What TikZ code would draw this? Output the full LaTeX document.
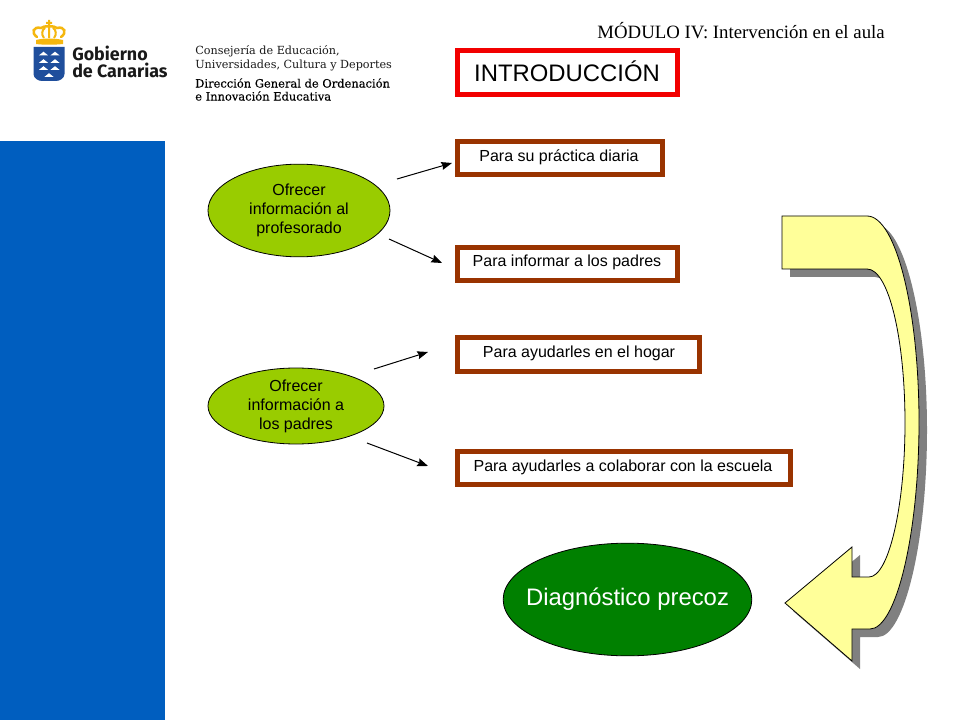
\documentclass[tikz,border=0pt]{standalone}
\usepackage{fontspec}
\setmainfont{Liberation Sans}
\newfontfamily\timesf{Liberation Serif}
\newfontfamily\logoserif{DejaVu Serif}
\newfontfamily\logoserifb[FakeBold=0.25]{DejaVu Serif}
\newfontfamily\logosans{Fira Sans}
\usetikzlibrary{arrows.meta,shapes.geometric}
\definecolor{sideblue}{HTML}{005EBF}
\definecolor{brownb}{HTML}{993300}
\definecolor{lime}{HTML}{99CC00}
\definecolor{dgreen}{HTML}{008000}
\definecolor{pale}{HTML}{FFFF99}
\definecolor{shad}{HTML}{808080}
\definecolor{shield}{HTML}{1F4E9C}
\definecolor{crown}{HTML}{F5B70F}
\tikzset{
 x=0.75pt,y=-0.75pt,
 brownbox/.style={draw=brownb,line width=3.75pt,fill=white,anchor=center,inner sep=0pt},
 boxtext/.style={inner sep=0pt,font=\fontsize{12pt}{14pt}\selectfont},
 bubble/.style={ellipse,draw=black,line width=0.6pt,fill=lime,inner sep=-6pt,align=center,font=\fontsize{12pt}{14.3pt}\selectfont},
 link/.style={draw=black,line width=0.75pt,-{Stealth[length=8pt,width=6pt,inset=1pt]}},
 logotxt/.style={anchor=west,inner sep=0pt,font=\logoserif\fontsize{8.4pt}{10pt}\selectfont,text=black!90},
 logotxtb/.style={anchor=west,inner sep=0pt,font=\logoserifb\fontsize{8.6pt}{10pt}\selectfont,text=black},
 logobig/.style={anchor=west,inner sep=0pt,font=\logosans\bfseries\fontsize{13.4pt}{15pt}\selectfont,text=black!90},
}
\newcommand{\arrowshape}{(782,216) -- (867,216) .. controls (896,216) and (919,310) .. (919,422) .. controls (919,535) and (896,629) .. (870,629) -- (852,629) -- (852,661) -- (785,603) -- (852,547) -- (852,577) -- (869,577) .. controls (889,577) and (905,505) .. (905,423) .. controls (905,340) and (889,269) .. (867,269) -- (782,269) -- cycle}
\begin{document}
\begin{tikzpicture}
\useasboundingbox (0,0) rectangle (960,720);
\fill[white] (0,0) rectangle (960,720);
\fill[sideblue] (0,141) rectangle (165,720);
% logo
\draw[crown,line width=1.9pt,line cap=round] (37,37) .. controls (31,33) and (33,26) .. (41,28) .. controls (44,25.5) and (54,25.5) .. (57,28) .. controls (65,26) and (67,33) .. (61,37);
\draw[crown,line width=1.5pt] (44,38) .. controls (41,34) and (42,30) .. (45,28) (49,38) -- (49,27) (54,38) .. controls (57,34) and (56,30) .. (53,28);
\fill[crown] (36,40) .. controls (44,38) and (54,38) .. (63,40) -- (63,44) .. controls (54,45) and (44,45) .. (36,44) -- cycle;
\fill[crown] (48,20) rectangle (50,26) (46,22) rectangle (52,24);
\path[fill=shield] (33.5,47) -- (64.5,47) -- (64.5,74) .. controls (64.5,78) and (60,81) .. (56,81) -- (42,81) .. controls (38,81) and (33.5,78) .. (33.5,74) -- cycle;
\foreach \p in {(43.5,55.5),(55,55.5),(43.5,63),(55,63),(43.5,70),(55,70),(49,77)}{
 \fill[white] \p ++(-4.7,0) -- ++(4.7,-3.8) -- ++(4.7,3.8) -- cycle;}
\node[logobig] (gob1) at (72,53) {Gobierno};
\node[logobig] (gob2) at (72,70) {de Canarias};
\node[logotxt] (l1) at (195,51) {Consejería de Educación,};
\node[logotxt] (l2) at (195,65) {Universidades, Cultura y Deportes};
\node[logotxtb] (l3) at (195,83) {Dirección General de Ordenación};
\node[logotxtb] (l4) at (195,96) {e Innovación Educativa};
% title
\node[anchor=east,inner sep=0pt,font=\timesf\fontsize{14.1pt}{16pt}\selectfont] (mod) at (885,31) {MÓDULO IV: Intervención en el aula};
\draw[red!95!black,line width=3.75pt,fill=white] (457.5,50.5) rectangle (677.5,94.5);
\node[inner sep=0pt,font=\fontsize{17.9pt}{20pt}\selectfont] (intro) at (567,71) {INTRODUCCIÓN};
% boxes
\node[brownbox,minimum width=153.75pt,minimum height=24.75pt] (b1) at (560,158) {};
\node[boxtext] (t1) at (559,157.5) {Para su práctica diaria};
\node[brownbox,minimum width=165pt,minimum height=24.75pt] (b2) at (567.5,264) {};
\node[boxtext] (t2) at (567,262.5) {Para informar a los padres};
\node[brownbox,minimum width=181.5pt,minimum height=25.5pt] (b3) at (578.5,354.5) {};
\node[boxtext] (t3) at (579,353.5) {Para ayudarles en el hogar};
\node[brownbox,minimum width=249.75pt,minimum height=24.75pt] (b4) at (624,468) {};
\node[boxtext] (t4) at (623,467.5) {Para ayudarles a colaborar con la escuela};
% ellipses
\node[bubble,minimum width=136.5pt,minimum height=69.5pt] (e1) at (299,210.5) {Ofrecer\\información al\\profesorado};
\node[bubble,minimum width=132pt,minimum height=57pt] (e2) at (296,406) {Ofrecer\\información a\\los padres};
\node[ellipse,draw=black,line width=0.6pt,fill=dgreen,text=white,minimum width=186.5pt,minimum height=84.5pt,inner sep=0pt,font=\fontsize{17.9pt}{20pt}\selectfont] (diag) at (627.5,599.5) {\makebox[0pt]{Diagnóstico precoz}};
% connectors
\coordinate (a1s) at (397,179); \coordinate (a1e) at (452,163);
\coordinate (a2s) at (389,239); \coordinate (a2e) at (442,263);
\coordinate (a3s) at (374,369); \coordinate (a3e) at (428,352);
\coordinate (a4s) at (367,443); \coordinate (a4e) at (428,466);
\draw[link] (a1s) -- (a1e);
\draw[link] (a2s) -- (a2e);
\draw[link] (a3s) -- (a3e);
\draw[link] (a4s) -- (a4e);
% curved arrow
\fill[shad,shift={(8,8)}] \arrowshape;
\draw[black,line width=0.6pt,fill=pale] \arrowshape;
\end{tikzpicture}
\end{document}
